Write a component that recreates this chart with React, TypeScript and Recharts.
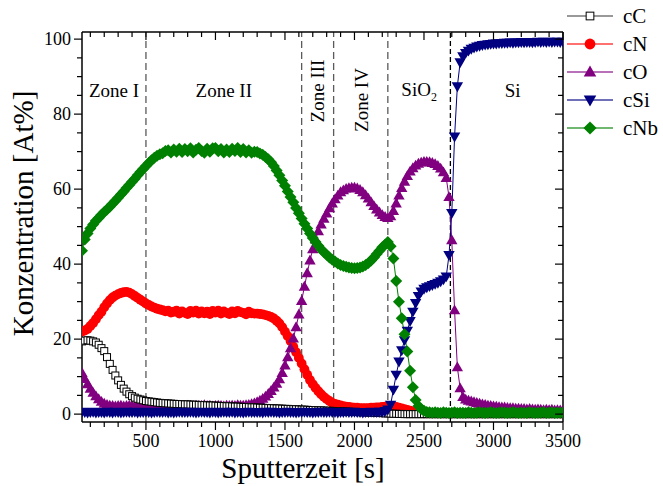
import React from 'react';
import { ComposedChart, Line, XAxis, YAxis, ReferenceLine, ReferenceArea } from 'recharts';

// Sputter time [s]
const T = [
  40, 60, 80,
  100, 120, 140, 160, 180, 200, 220, 240, 260, 280, 300, 320, 340, 360, 380, 400, 420, 440, 460, 480,
  500, 520, 540, 560, 580, 600, 620, 640, 660, 680, 700, 720, 740, 760, 780, 800, 820, 840, 860, 880,
  900, 920, 940, 960, 980, 1000, 1020, 1040, 1060, 1080, 1100, 1120, 1140, 1160, 1180, 1200, 1220, 1240, 1260, 1280,
  1300, 1320, 1340, 1360, 1380, 1400, 1420, 1440, 1460, 1480, 1500, 1520, 1540, 1560, 1580, 1600, 1620, 1640, 1660, 1680,
  1700, 1720, 1740, 1760, 1780, 1800, 1820, 1840, 1860, 1880, 1900, 1920, 1940, 1960, 1980, 2000, 2020, 2040, 2060, 2080,
  2100, 2120, 2140, 2160, 2180, 2200, 2220, 2240, 2260, 2280, 2300, 2320, 2340, 2360, 2380, 2400, 2420, 2440, 2460, 2480,
  2500, 2520, 2540, 2560, 2580, 2600, 2620, 2640, 2660, 2680, 2700, 2720, 2740, 2760, 2780, 2800, 2820, 2840, 2860, 2880,
  2900, 2920, 2940, 2960, 2980, 3000, 3020, 3040, 3060, 3080, 3100, 3120, 3140, 3160, 3180, 3200, 3220, 3240, 3260, 3280,
  3300, 3320, 3340, 3360, 3380, 3400, 3420, 3440, 3460, 3480, 3500,
];

const C_C = [
  19.4, 19.6, 19.7,
  19.6, 19.4, 19.1, 18.5, 17.6, 16.8, 15.2, 13.4, 11.8, 10.3, 9.0, 7.8, 6.8, 6.0, 5.3, 4.8, 4.4, 4.1, 3.9, 3.7,
  3.5, 3.4, 3.3, 3.2, 3.1, 3.0, 2.95, 2.9, 2.85, 2.8, 2.75, 2.7, 2.7, 2.65, 2.6, 2.6, 2.55, 2.5, 2.5, 2.45,
  2.4, 2.4, 2.35, 2.3, 2.3, 2.25, 2.2, 2.2, 2.15, 2.1, 2.1, 2.05, 2.0, 2.0, 1.95, 1.9, 1.9, 1.85, 1.8, 1.8,
  1.75, 1.7, 1.7, 1.65, 1.6, 1.6, 1.55, 1.5, 1.5, 1.45, 1.4, 1.4, 1.35, 1.3, 1.3, 1.25, 1.2, 1.2, 1.15, 1.1,
  1.1, 1.05, 1.0, 1.0, 0.95, 0.9, 0.9, 0.85, 0.8, 0.8, 0.75, 0.7, 0.7, 0.65, 0.6, 0.6, 0.55, 0.5, 0.5, 0.45,
  0.4, 0.4, 0.35, 0.3, 0.3, 0.25, 0.2, 0.2, 0.15, 0.1, 0.1, 0.05, 0.05, 0, 0, 0, 0, 0, 0, 0,
  0, 0, 0, 0, 0, 0, 0, 0, 0, 0, 0, 0, 0, 0, 0, 0, 0, 0, 0, 0,
  0, 0, 0, 0, 0, 0, 0, 0, 0, 0, 0, 0, 0, 0, 0, 0, 0, 0, 0, 0,
  0, 0, 0, 0, 0, 0, 0, 0, 0, 0, 0,
];

const C_N = [
  22.0, 22.3, 22.7,
  23.5, 24.3, 25.3, 26.4, 27.3, 28.5, 29.5, 30.4, 31.1, 31.6, 32.0, 32.3, 32.5, 32.6, 32.4, 32.0, 31.5, 31.0, 30.5, 30.0,
  29.5, 29.1, 28.7, 28.4, 28.1, 27.9, 27.7, 27.4, 27.6, 27.1, 27.3, 27.6, 26.8, 27.4, 27.0, 26.7, 27.5, 27.1, 27.6, 26.8,
  27.4, 26.9, 27.3, 26.7, 27.5, 27.1, 27.6, 26.8, 27.4, 27.0, 26.7, 27.4, 26.9, 27.5, 27.2, 27.0, 26.6, 27.3, 26.9, 26.8,
  26.8, 26.7, 26.6, 26.4, 26.2, 25.9, 25.5, 24.9, 24.2, 23.2, 22.0, 20.8, 19.5, 18.0, 16.5, 15.0, 13.5, 12.0, 10.5, 9.1,
  8.0, 7.0, 6.1, 5.3, 4.6, 4.0, 3.5, 3.0, 2.7, 2.5, 2.3, 2.1, 2.0, 1.9, 1.8, 1.7, 1.7, 1.6, 1.6, 1.6,
  1.6, 1.7, 1.7, 1.8, 1.8, 1.9, 2.0, 2.0, 2.1, 2.0, 1.9, 1.7, 1.5, 1.3, 1.1, 0.9, 0.7, 0.5, 0.4, 0.3,
  0.2, 0.2, 0.2, 0.2, 0.2, 0.2, 0.2, 0.2, 0.2, 0.2, 0.2, 0.2, 0.2, 0.2, 0.2, 0.2, 0.2, 0.2, 0.2, 0.2,
  0.2, 0.2, 0.2, 0.2, 0.2, 0.2, 0.2, 0.2, 0.2, 0.2, 0.2, 0.2, 0.2, 0.2, 0.2, 0.2, 0.2, 0.2, 0.2, 0.2,
  0.2, 0.2, 0.2, 0.2, 0.2, 0.2, 0.2, 0.2, 0.2, 0.2, 0.2,
];

const C_O = [
  11.0, 9.4, 8.0,
  6.8, 5.7, 4.8, 4.0, 3.3, 2.8, 2.5, 2.3, 2.2, 2.1, 2.2, 2.3, 2.1, 2.2, 2.3, 2.2, 2.1, 2.3, 2.2, 2.4,
  2.2, 2.3, 2.1, 2.2, 2.3, 2.1, 2.2, 2.4, 2.2, 2.3, 2.2, 2.1, 2.3, 2.2, 2.2, 2.3, 2.2, 2.1, 2.3, 2.2,
  2.2, 2.4, 2.2, 2.3, 2.1, 2.2, 2.3, 2.2, 2.1, 2.3, 2.2, 2.3, 2.2, 2.4, 2.3, 2.3, 2.4, 2.5, 2.7, 2.9,
  3.2, 3.6, 4.1, 4.7, 5.4, 6.2, 7.1, 8.1, 9.3, 11.0, 13.0, 15.2, 17.6, 20.2, 23.2, 26.6, 30.2, 34.0, 37.6, 41.0,
  44.0, 46.6, 48.8, 50.6, 52.1, 53.5, 54.9, 56.2, 57.3, 58.3, 59.2, 59.7, 60.1, 60.3, 60.4, 60.4, 60.2, 59.8, 59.2, 58.4,
  57.5, 56.5, 55.5, 54.6, 53.8, 53.1, 52.6, 52.3, 52.8, 54.2, 56.2, 58.3, 60.3, 62.0, 63.5, 64.7, 65.6, 66.3, 66.8, 67.1,
  67.3, 67.3, 67.2, 67.0, 66.7, 66.2, 65.5, 64.5, 63.0, 57.9, 46.4, 27.7, 12.5, 6.9, 4.6, 3.9, 3.6, 3.4, 3.2, 3.0,
  2.8, 2.6, 2.5, 2.3, 2.2, 2.1, 2.0, 1.9, 1.8, 1.8, 1.7, 1.6, 1.6, 1.5, 1.5, 1.4, 1.4, 1.3, 1.4, 1.3,
  1.2, 1.3, 1.2, 1.1, 1.2, 1.1, 1.2, 1.0, 1.1, 1.0, 1.0,
];

const C_SI = [
  0.6, 0.5, 0.4,
  0.5, 0.6, 0.4, 0.5, 0.5, 0.4, 0.6, 0.5, 0.4, 0.6, 0.5, 0.4, 0.5, 0.6, 0.5, 0.5, 0.6, 0.4, 0.5, 0.5,
  0.6, 0.5, 0.4, 0.5, 0.6, 0.5, 0.5, 0.6, 0.4, 0.5, 0.4, 0.5, 0.6, 0.5, 0.5, 0.5, 0.6, 0.5, 0.4, 0.5,
  0.6, 0.5, 0.5, 0.4, 0.6, 0.5, 0.4, 0.5, 0.6, 0.5, 0.5, 0.6, 0.4, 0.5, 0.5, 0.4, 0.5, 0.6, 0.5, 0.5,
  0.5, 0.5, 0.4, 0.6, 0.5, 0.6, 0.5, 0.5, 0.4, 0.5, 0.5, 0.6, 0.5, 0.5, 0.4, 0.5, 0.5, 0.6, 0.5, 0.5,
  0.4, 0.5, 0.5, 0.6, 0.5, 0.5, 0.6, 0.5, 0.5, 0.4, 0.5, 0.5, 0.6, 0.5, 0.5, 0.6, 0.5, 0.5, 0.4, 0.5,
  0.5, 0.6, 0.5, 0.5, 0.6, 0.6, 0.8, 1.2, 2.5, 6.5, 10.5, 14.0, 17.0, 19.7, 22.2, 24.8, 27.3, 29.6, 31.5, 32.7,
  33.4, 33.8, 34.1, 34.4, 34.7, 35.0, 35.4, 35.9, 36.7, 42.4, 53.6, 74.0, 87.4, 93.8, 95.4, 96.3, 96.9, 97.4, 97.7, 98.0,
  98.2, 98.4, 98.5, 98.6, 98.7, 98.8, 98.8, 98.9, 98.9, 99.0, 99.0, 99.1, 99.0, 99.1, 99.1, 99.2, 99.1, 99.2, 99.2, 99.1,
  99.2, 99.3, 99.2, 99.3, 99.2, 99.3, 99.2, 99.3, 99.3, 99.2, 99.3,
];

const C_NB = [
  43.6, 46.6, 48.2,
  49.5, 50.6, 51.6, 52.3, 53.2, 53.9, 54.6, 55.3, 56.1, 56.9, 57.7, 58.6, 59.4, 60.3, 61.1, 62.0, 62.8, 63.7, 64.6, 65.4,
  66.2, 67.0, 67.7, 68.4, 68.9, 69.3, 69.6, 70.2, 70.4, 69.8, 70.6, 70.0, 70.8, 69.9, 70.7, 70.1, 70.9, 69.8, 70.5, 71.0,
  70.2, 69.7, 70.8, 70.0, 70.9, 71.0, 70.1, 70.7, 69.8, 70.6, 69.9, 70.8, 70.2, 71.0, 69.9, 70.7, 69.8, 70.4, 69.7, 70.0,
  69.9, 69.5, 69.2, 68.6, 68.0, 67.2, 66.2, 65.0, 63.7, 62.3, 60.9, 59.4, 57.9, 56.5, 55.0, 53.6, 52.2, 50.8, 49.5, 48.2,
  47.0, 45.9, 44.9, 44.0, 43.2, 42.5, 41.8, 41.2, 40.7, 40.2, 39.8, 39.5, 39.3, 39.1, 39.0, 38.9, 39.0, 39.1, 39.4, 39.8,
  40.3, 41.0, 41.8, 42.7, 43.6, 44.5, 45.2, 45.9, 44.8, 41.5, 35.5, 30.0, 25.6, 21.3, 16.7, 11.6, 7.2, 3.8, 2.2, 1.4,
  0.9, 0.6, 0.5, 0.4, 0.5, 0.4, 0.3, 0.5, 0.4, 0.3, 0.4, 0.5, 0.3, 0.4, 0.4, 0.3, 0.5, 0.4, 0.3, 0.4,
  0.5, 0.4, 0.3, 0.4, 0.5, 0.4, 0.3, 0.4, 0.5, 0.4, 0.3, 0.4, 0.5, 0.4, 0.3, 0.4, 0.4, 0.3, 0.5, 0.4,
  0.3, 0.4, 0.4, 0.5, 0.3, 0.4, 0.5, 0.3, 0.4, 0.4, 0.4,
];

const X_TICKS = [500, 1000, 1500, 2000, 2500, 3000, 3500];
const X_MINOR = [
  100, 200, 300, 400, 500, 600, 700, 800, 900, 1000, 1100, 1200, 1300, 1400, 1500, 1600, 1700, 1800,
  1900, 2000, 2100, 2200, 2300, 2400, 2500, 2600, 2700, 2800, 2900, 3000, 3100, 3200, 3300, 3400, 3500,
];
const Y_TICKS = [0, 20, 40, 60, 80, 100];
const Y_MINOR = [0, 5, 10, 15, 20, 25, 30, 35, 40, 45, 50, 55, 60, 65, 70, 75, 80, 85, 90, 95, 100];

const ZONE_NAMES = ['Zone I', 'Zone II', 'Zone III', 'Zone IV', 'SiO2', 'Si'];
const ZONE_BOUNDS = [40, 500, 1620, 1850, 2240, 2690, 3500];

// layout / style (not data)
const ZONE_LAYOUT = [
  { vertical: false, dx: 0, y: 97 },
  { vertical: false, dx: 0, y: 97 },
  { vertical: true, dx: 6.5, y: 91 },
  { vertical: true, dx: 7, y: 100 },
  { vertical: false, dx: 0, y: 96 },
  { vertical: false, dx: 6, y: 97 },
];
const LINE_STYLE = [
  { stroke: '#5a5a5a', dash: '7 4' },
  { stroke: '#5a5a5a', dash: '7 4' },
  { stroke: '#5a5a5a', dash: '7 4' },
  { stroke: '#5a5a5a', dash: '7 4' },
  { stroke: '#000000', dash: '5 3' },
];

const FONT = '"Liberation Serif", "Times New Roman", Times, serif';

type Shape = 'square' | 'circle' | 'up' | 'down' | 'diamond';
interface SeriesDef { key: string; name: string; color: string; line: string; shape: Shape; }

const SERIES_DRAW: SeriesDef[] = [
  { key: 'cN', name: 'cN', color: '#FF0000', line: '#FF0000', shape: 'circle' },
  { key: 'cO', name: 'cO', color: '#800080', line: '#800080', shape: 'up' },
  { key: 'cC', name: 'cC', color: '#000000', line: '#444444', shape: 'square' },
  { key: 'cSi', name: 'cSi', color: '#000080', line: '#000080', shape: 'down' },
  { key: 'cNb', name: 'cNb', color: '#008000', line: '#008000', shape: 'diamond' },
];
const LEGEND_ORDER = ['cC', 'cN', 'cO', 'cSi', 'cNb'];

const rows = T.map((t, i) => ({
  t,
  cC: C_C[i],
  cN: C_N[i],
  cO: C_O[i],
  cSi: C_SI[i],
  cNb: C_NB[i],
}));

function Marker({ shape, cx, cy, color, scale = 1 }: { shape: Shape; cx: number; cy: number; color: string; scale?: number }) {
  const s = scale;
  switch (shape) {
    case 'square':
      return <rect x={cx - 3.5 * s} y={cy - 3.5 * s} width={7 * s} height={7 * s} fill="#fff" stroke="#000" strokeWidth={1} />;
    case 'circle':
      return <circle cx={cx} cy={cy} r={4.9 * s} fill={color} />;
    case 'up':
      return <polygon points={`${cx},${cy - 5.8 * s} ${cx + 5.7 * s},${cy + 4.1 * s} ${cx - 5.7 * s},${cy + 4.1 * s}`} fill={color} />;
    case 'down':
      return <polygon points={`${cx - 5.7 * s},${cy - 4.1 * s} ${cx + 5.7 * s},${cy - 4.1 * s} ${cx},${cy + 5.8 * s}`} fill={color} />;
    case 'diamond':
    default:
      return <polygon points={`${cx},${cy - 6 * s} ${cx + 6 * s},${cy} ${cx},${cy + 6 * s} ${cx - 6 * s},${cy}`} fill={color} />;
  }
}

const makeZoneLabel = (i: number) => (props: any) => {
  const vb = props.viewBox || {};
  const lay = ZONE_LAYOUT[i];
  const name = ZONE_NAMES[i];
  const cx = (vb.x ?? 0) + (vb.width ?? 0) / 2 + lay.dx;
  if (lay.vertical) {
    return (
      <text transform={`translate(${cx},${lay.y}) rotate(-90)`} textAnchor="middle" fontFamily={FONT} fontSize={19} fill="#000">
        {name}
      </text>
    );
  }
  if (name === 'SiO2') {
    return (
      <text x={cx} y={lay.y} textAnchor="middle" fontFamily={FONT} fontSize={19} fill="#000">
        SiO<tspan fontSize={12} dy={5}>2</tspan>
      </text>
    );
  }
  return (
    <text x={cx} y={lay.y} textAnchor="middle" fontFamily={FONT} fontSize={19} fill="#000">
      {name}
    </text>
  );
};

const MAJOR_LEN = 8;
const MINOR_LEN = 5;

type Side = 'left' | 'right' | 'top' | 'bottom';
const makeTick = (side: Side, majors: number[], showLabel: boolean) => (p: any) => {
  const v = p.payload?.value;
  const major = majors.includes(v);
  const len = major ? MAJOR_LEN : MINOR_LEN;
  const x = p.x;
  const y = p.y;
  const ls = { stroke: '#000', strokeWidth: 1.2 };
  let line: React.ReactNode = null;
  let label: React.ReactNode = null;
  if (side === 'left') {
    line = <line x1={x - len} x2={x} y1={y} y2={y} {...ls} />;
    label = <text x={x - MAJOR_LEN - 3} y={y} dy="0.35em" textAnchor="end" fontFamily={FONT} fontSize={18} fill="#000">{v}</text>;
  } else if (side === 'right') {
    line = <line x1={x - len} x2={x} y1={y} y2={y} {...ls} />;
  } else if (side === 'top') {
    line = <line x1={x} x2={x} y1={y} y2={y + len} {...ls} />;
  } else {
    line = <line x1={x} x2={x} y1={y} y2={y + len} {...ls} />;
    label = <text x={x} y={y + MAJOR_LEN + 4} dy="0.71em" textAnchor="middle" fontFamily={FONT} fontSize={18} fill="#000">{v}</text>;
  }
  return (
    <g key={`${side}-${v}`}>
      {line}
      {showLabel && major ? label : null}
    </g>
  );
};

const DOMAIN_X: [number, number] = [40, 3500];
const DOMAIN_Y: [number, number] = [-2.1, 101.9];
const AXIS_LINE = { stroke: '#000', strokeWidth: 1.5 };

export default function App() {
  return (
    <div style={{ position: 'absolute', left: 0, top: 0, width: 663, height: 486, background: '#fff' }}>
      <ComposedChart width={663} height={486} data={rows} margin={{ top: 32, right: 100, bottom: 63, left: 81 }}>
        <XAxis xAxisId="main" dataKey="t" type="number" domain={DOMAIN_X} allowDataOverflow ticks={X_MINOR} interval={0}
          height={1} tickSize={0} tickMargin={0} tickLine={false} tick={makeTick('bottom', X_TICKS, true)} axisLine={AXIS_LINE} />
        <XAxis xAxisId="top" dataKey="t" type="number" orientation="top" mirror domain={DOMAIN_X} allowDataOverflow ticks={X_MINOR} interval={0}
          height={1} tickSize={0} tickMargin={0} tickLine={false} tick={makeTick('top', X_TICKS, false)} axisLine={AXIS_LINE} />

        <YAxis yAxisId="main" type="number" domain={DOMAIN_Y} allowDataOverflow ticks={Y_MINOR} interval={0}
          width={1} tickSize={0} tickMargin={0} tickLine={false} tick={makeTick('left', Y_TICKS, true)} axisLine={AXIS_LINE} />
        <YAxis yAxisId="right" type="number" orientation="right" mirror domain={DOMAIN_Y} allowDataOverflow ticks={Y_MINOR} interval={0}
          width={1} tickSize={0} tickMargin={0} tickLine={false} tick={makeTick('right', Y_TICKS, false)} axisLine={AXIS_LINE} />

        {ZONE_NAMES.map((_, i) => (
          <ReferenceArea key={`za${i}`} xAxisId="main" yAxisId="main" x1={ZONE_BOUNDS[i]} x2={ZONE_BOUNDS[i + 1]}
            fill="#fff" fillOpacity={0} stroke="none" ifOverflow="visible" label={makeZoneLabel(i)} />
        ))}

        {ZONE_BOUNDS.slice(1, 6).map((b, i) => (
          <ReferenceLine key={`zl${i}`} xAxisId="main" yAxisId="main" x={b}
            stroke={LINE_STYLE[i].stroke} strokeWidth={1.3} strokeDasharray={LINE_STYLE[i].dash} />
        ))}

        {SERIES_DRAW.map((s) => (
          <Line key={s.key} xAxisId="main" yAxisId="main" type="linear" dataKey={s.key} name={s.name}
            stroke={s.line} strokeWidth={1} isAnimationActive={false} activeDot={false} legendType="none"
            dot={(p: any) => (
              <Marker key={`${s.key}-${p.index}`} shape={s.shape} cx={p.cx} cy={p.cy} color={s.color} />
            )} />
        ))}
      </ComposedChart>

      <svg width={663} height={486} style={{ position: 'absolute', left: 0, top: 0, pointerEvents: 'none' }}>
        <text x={303} y={477.5} textAnchor="middle" fontFamily={FONT} fontSize={29} fill="#000">Sputterzeit [s]</text>
        <text transform="translate(33,213.5) rotate(-90)" textAnchor="middle" fontFamily={FONT} fontSize={29} fill="#000">
          Konzentration [At%]
        </text>
        {LEGEND_ORDER.map((k, i) => {
          const s = SERIES_DRAW.find((d) => d.key === k)!;
          const y = 16 + 28 * i;
          return (
            <g key={`lg${k}`}>
              <line x1={567} x2={613} y1={y} y2={y} stroke={k === 'cC' ? '#777' : s.line} strokeOpacity={k === 'cC' ? 1 : 0.75} strokeWidth={1.3} />
              <Marker shape={s.shape} cx={590} cy={y} color={s.color} scale={1.1} />
              <text x={623} y={y + 7} fontFamily={FONT} fontSize={21} fill="#000">{s.name}</text>
            </g>
          );
        })}
      </svg>
    </div>
  );
}
